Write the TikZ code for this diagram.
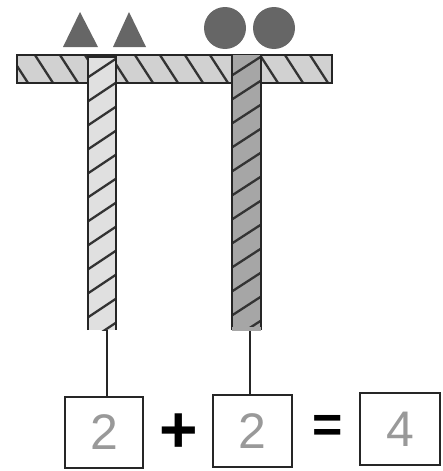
\documentclass[tikz,border=0pt]{standalone}
\usepackage{fontspec}
\setmainfont{Liberation Sans}
\begin{document}
\begin{tikzpicture}[x=1pt,y=-1pt,
  outline/.style={draw=black!85,line width=1.3pt},
  hatchline/.style={draw=black!80,line width=2.3pt},
  token/.style={fill=black!60,draw=none},
  numbox/.style={draw=black!85,line width=1.4pt,inner sep=0pt,font=\fontsize{50}{50}\selectfont,text=black!40},
  opsign/.style={inner sep=0pt,text=black,font=\bfseries\fontsize{52}{52}\selectfont},
  link/.style={draw=black!85,line width=1.2pt}]
\useasboundingbox (0,0) rectangle (443,471);
% horizontal bar
\begin{scope}
\clip (17,55) rectangle (332,83);
\fill[black!18] (17,55) rectangle (332,83);
\foreach \i in {0,...,14} \draw[hatchline] ({8+\i*25},52) -- ++(22,34);
\end{scope}
\draw[outline] (17,55) rectangle (332,83);
% left pole
\begin{scope}
\clip (88,57) rectangle (116,330);
\fill[black!12] (88,57) rectangle (116,330);
\foreach \i in {0,...,12} \draw[hatchline] (84,{80+\i*24}) -- ++(36,-24);
\end{scope}
\draw[outline] (88,330) -- (88,57) -- (116,57) -- (116,330);
% right pole
\begin{scope}
\clip (232,55) rectangle (261,330);
\fill[black!35] (232,55) rectangle (261,330);
\foreach \i in {0,...,12} \draw[hatchline] (228,{78+\i*24}) -- ++(37,-24);
\end{scope}
\draw[outline] (232,330) -- (232,55) (261,55) -- (261,330);
\fill[black!35] (232,327) rectangle (261,331);
% tokens
\fill[token] (63,47) -- (80,12) -- (98,47) -- cycle;
\fill[token] (113,47) -- (129,12) -- (146,47) -- cycle;
\fill[token] (225,28) circle[radius=21pt];
\fill[token] (274,28) circle[radius=21pt];
% boxes
\node[numbox,minimum width=78pt,minimum height=71pt] (b1) at (104,432.5) {2};
\node[numbox,minimum width=79pt,minimum height=72pt] (b2) at (252.5,431) {2};
\node[numbox,minimum width=80pt,minimum height=72pt] (b3) at (400,429) {4};
\node[opsign,font=\bfseries\fontsize{66}{66}\selectfont] (plus) at (179,433) {+};
\node[opsign] (eq) at (328,429) {=};
% connectors
\coordinate (p1) at (107,330);
\coordinate (p2) at (250,331);
\draw[link] (p1) -- (p1 |- b1.north);
\draw[link] (p2) -- (p2 |- b2.north);
\end{tikzpicture}
\end{document}
